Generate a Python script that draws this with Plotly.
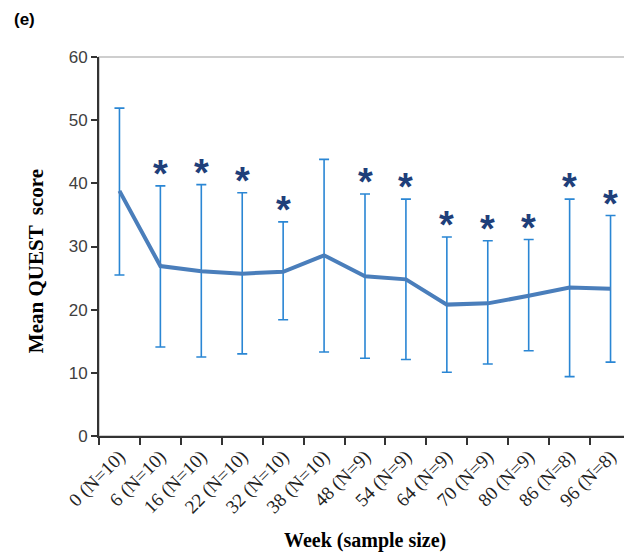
import plotly.graph_objects as go

weeks = ["0 (N=10)", "6 (N=10)", "16 (N=10)", "22 (N=10)", "32 (N=10)", "38 (N=10)",
         "48 (N=9)", "54 (N=9)", "64 (N=9)", "70 (N=9)", "80 (N=9)", "86 (N=8)", "96 (N=8)"]
mean_score = [38.8, 26.9, 26.1, 25.7, 26.0, 28.6, 25.3, 24.8, 20.8, 21.0, 22.2, 23.5, 23.3]
upper_bar = [51.9, 39.6, 39.8, 38.5, 33.9, 43.8, 38.3, 37.5, 31.5, 30.9, 31.1, 37.5, 34.9]
lower_bar = [25.5, 14.1, 12.5, 13.0, 18.4, 13.3, 12.3, 12.1, 10.1, 11.4, 13.5, 9.4, 11.7]
significant = [False, True, True, True, True, False, True, True, True, True, True, True, True]

err_plus = [u - m for u, m in zip(upper_bar, mean_score)]
err_minus = [m - l for m, l in zip(mean_score, lower_bar)]

fig = go.Figure()
fig.add_trace(go.Scatter(
    x=weeks, y=mean_score, mode="lines",
    line=dict(color="#4a7ebb", width=4),
    error_y=dict(type="data", symmetric=False, array=err_plus, arrayminus=err_minus,
                 color="#2a86d4", thickness=1.6, width=5),
    showlegend=False, hoverinfo="skip",
))

annotations = []
for w, u, s in zip(weeks, upper_bar, significant):
    if s:
        annotations.append(dict(
            text="<b>*</b>", x=w, y=u, xref="x", yref="y", yanchor="middle",
            xanchor="center", yshift=12, showarrow=False,
            font=dict(family="Liberation Sans", size=38, color="#1f3f7a")))

annotations += [
    dict(text="<b>(e)</b>", xref="paper", yref="paper", x=-0.1635, y=1.098,
         xanchor="left", yanchor="middle", showarrow=False,
         font=dict(family="Liberation Sans", size=17, color="black")),
    dict(text="<b>Mean QUEST  score</b>", xref="paper", yref="paper", x=-0.118, y=0.462,
         xanchor="center", yanchor="middle", textangle=-90, showarrow=False,
         font=dict(family="Liberation Serif", size=21, color="black")),
    dict(text="<b>Week (sample size)</b>", xref="paper", yref="paper", x=0.5, y=-0.277,
         xanchor="center", yanchor="middle", showarrow=False,
         font=dict(family="Liberation Serif", size=20, color="black")),
]

# page body has an 8px margin: shift the figure so the plot area lands at
# x 99..631, y 57..436 in the window
fig.update_layout(
    width=624, height=544,
    margin=dict(l=91, r=1, t=49, b=116),
    paper_bgcolor="white", plot_bgcolor="white",
    xaxis=dict(
        type="category", range=[-0.5, 12.5], tickson="boundaries",
        ticks="outside", ticklen=7, tickwidth=2, tickcolor="#333333",
        showline=True, linecolor="#333333", linewidth=2, automargin=False,
        showgrid=False, zeroline=False, tickangle=-45,
        tickfont=dict(family="Liberation Serif", size=19, color="#222222"),
    ),
    yaxis=dict(
        range=[0, 60], dtick=10, ticks="outside", ticklen=6, tickwidth=2,
        tickcolor="#333333", showline=True, linecolor="#333333", linewidth=2,
        showgrid=False, zeroline=False, automargin=False,
        tickfont=dict(family="Liberation Sans", size=17, color="#404040"),
    ),
    shapes=[dict(type="rect", xref="paper", yref="paper", x0=0, x1=1, y0=0, y1=1,
                 line=dict(color="#bfbfbf", width=1.5), layer="below")],
    annotations=annotations,
)

fig.write_html("out.html")
